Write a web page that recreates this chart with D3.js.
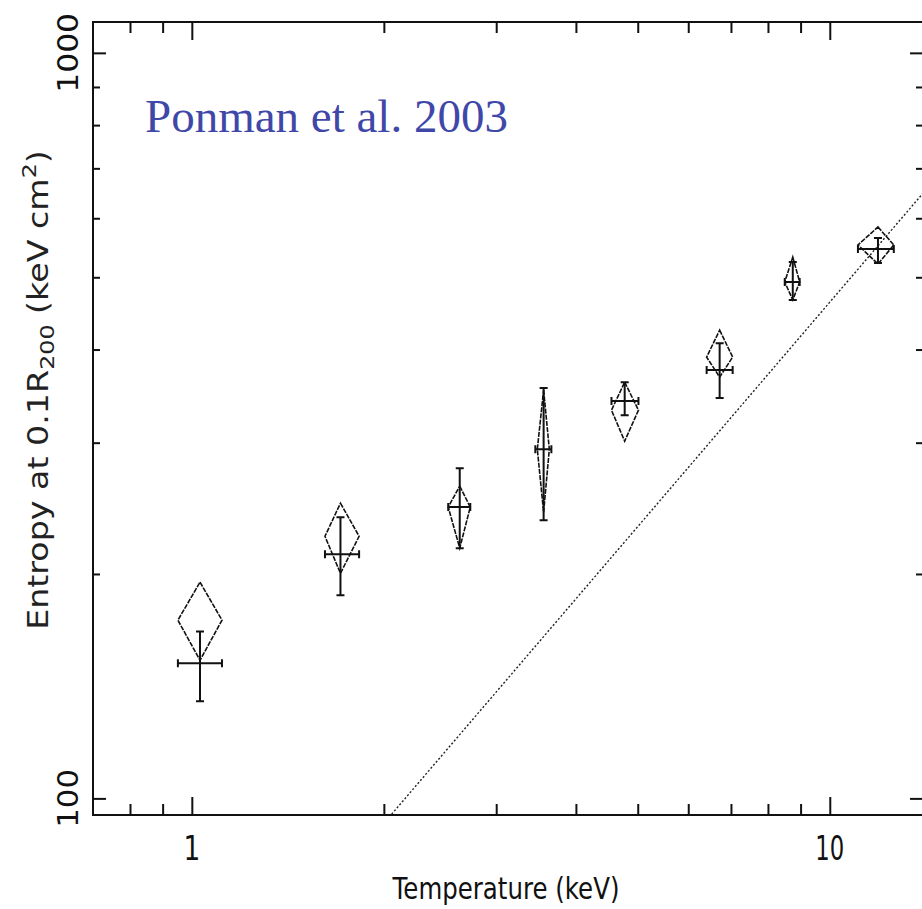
<!DOCTYPE html>
<html>
<head>
<meta charset="utf-8">
<script src="https://cdn.jsdelivr.net/npm/d3@7"></script>
<style>
  html, body { margin: 0; padding: 0; background: #fff; }
  svg { display: block; }
</style>
</head>
<body>
<script>
// temperature (keV) with x error range
var tempKeV = [1.03, 1.71, 2.63, 3.56, 4.77, 6.72, 8.75, 11.9];
var tempLo  = [0.951, 1.617, 2.523, 3.455, 4.548, 6.412, 8.5, 11.07];
var tempHi  = [1.115, 1.829, 2.732, 3.661, 5.013, 7.043, 8.97, 12.6];
// entropy at 0.1 R200 with y error range
var entropy   = [151.8, 212.6, 245.9, 294.0, 341.1, 375.4, 492.8, 545.7];
var entropyLo = [135.0, 187.3, 216.6, 236.1, 326.6, 344.3, 466.1, 522.5];
var entropyHi = [167.5, 238.3, 277.3, 355.1, 361.7, 408.0, 524.1, 564.5];
// diamonds
var diamondTLo = [0.951, 1.617, 2.523, 3.48, 4.548, 6.412, 8.5, 11.07];
var diamondTHi = [1.115, 1.829, 2.732, 3.634, 5.013, 7.043, 8.97, 12.6];
var diamondTop = [195.0, 248.9, 262.3, 352.9, 361.7, 424.8, 532.2, 584.0];
var diamondMid = [173.4, 224.7, 245.9, 294.0, 331.7, 390.8, 492.8, 552.5];
var diamondBot = [153.2, 200.4, 216.6, 242.0, 301.4, 367.3, 466.1, 521.0];
// self-similar line S = 46.3 T
var lineT = [2.0, 15.0];
var lineS = [92.6, 694.5];

var xMajor = [1, 10];
var xMinor = [0.8, 0.9, 2, 3, 4, 5, 6, 7, 8, 9];
var yMajor = [100, 1000];
var yMinor = [200, 300, 400, 500, 600, 700, 800, 900];

var W = 922, H = 909;
var pLeft = 93, pRight = 923, pTop = 22, pBottom = 815;

var svg = d3.select("body").append("svg").attr("width", W).attr("height", H);

var x = d3.scaleLog().domain([0.7, 14]).range([pLeft, pRight]);
var y = d3.scaleLog().domain([95, 1100]).range([pBottom, pTop]);

var defs = svg.append("defs");
defs.append("clipPath").attr("id", "clip").append("rect")
  .attr("x", pLeft).attr("y", pTop).attr("width", pRight - pLeft).attr("height", pBottom - pTop);

function tickAxis(axis, values, size, tr){
  var g = svg.append("g").attr("transform", tr)
    .call(axis.tickValues(values).tickSize(-size).tickFormat(""));
  g.select(".domain").remove();
  g.selectAll(".tick line").attr("stroke", "#111").attr("stroke-width", 2);
}
tickAxis(d3.axisBottom(x), xMajor, 18, "translate(0," + pBottom + ")");
tickAxis(d3.axisBottom(x), xMinor, 11, "translate(0," + pBottom + ")");
tickAxis(d3.axisTop(x), xMajor, 18, "translate(0," + pTop + ")");
tickAxis(d3.axisTop(x), xMinor, 11, "translate(0," + pTop + ")");
tickAxis(d3.axisLeft(y), yMajor, 13, "translate(" + pLeft + ",0)");
tickAxis(d3.axisLeft(y), yMinor, 7, "translate(" + pLeft + ",0)");
tickAxis(d3.axisRight(y), yMajor, 13, "translate(" + pRight + ",0)");
tickAxis(d3.axisRight(y), yMinor, 7, "translate(" + pRight + ",0)");

svg.append("rect").attr("x", pLeft).attr("y", pTop)
  .attr("width", pRight - pLeft).attr("height", pBottom - pTop)
  .attr("fill", "none").attr("stroke", "#111").attr("stroke-width", 2);

// self-similar line
svg.append("path").attr("clip-path", "url(#clip)")
  .datum(lineT.map(function(t, i){ return [t, lineS[i]]; }))
  .attr("fill", "none").attr("stroke", "#222").attr("stroke-width", 1.4)
  .attr("stroke-dasharray", "2,2")
  .attr("d", d3.line().x(function(d){ return x(d[0]); }).y(function(d){ return y(d[1]); }));

// diamonds
var pts = tempKeV.map(function(t, i){ return i; });
svg.append("g").selectAll("path").data(pts).enter().append("path")
  .attr("fill", "none").attr("stroke", "#111").attr("stroke-width", 1.6)
  .attr("stroke-dasharray", "5,1.2")
  .attr("d", function(i){
    return "M" + x(tempKeV[i]) + "," + y(diamondTop[i]) +
      "L" + x(diamondTHi[i]) + "," + y(diamondMid[i]) +
      "L" + x(tempKeV[i]) + "," + y(diamondBot[i]) +
      "L" + x(diamondTLo[i]) + "," + y(diamondMid[i]) + "Z";
  });

// error crosses
var cap = 4;
var eg = svg.append("g").attr("stroke", "#111").attr("stroke-width", 2).attr("fill", "none");
eg.selectAll("path").data(pts).enter().append("path")
  .attr("d", function(i){
    var cx = x(tempKeV[i]), cy = y(entropy[i]);
    var x0 = x(tempLo[i]), x1 = x(tempHi[i]);
    var y0 = y(entropyLo[i]), y1 = y(entropyHi[i]);
    return "M" + x0 + "," + cy + "H" + x1 +
      "M" + cx + "," + y0 + "V" + y1 +
      "M" + x0 + "," + (cy - cap) + "V" + (cy + cap) +
      "M" + x1 + "," + (cy - cap) + "V" + (cy + cap) +
      "M" + (cx - cap) + "," + y0 + "H" + (cx + cap) +
      "M" + (cx - cap) + "," + y1 + "H" + (cx + cap);
  });

// labels, squeezed to the measured lengths
var font = "'DejaVu Sans', sans-serif";
function label(txt, size, px, py, target, rot){
  var t = svg.append("text").attr("font-family", font).attr("font-size", size)
    .attr("fill", "#111").attr("text-anchor", "middle").text(txt);
  var sx = target ? target / t.node().getComputedTextLength() : 0.8;
  t.attr("transform", "translate(" + px + "," + py + ")" + (rot ? " rotate(-90)" : "") + " scale(" + sx + ",1)");
  return t;
}
label("1", 33, x(1), 860, null, false);
label("10", 33, x(10), 860, 29, false);
label("1000", 29, 78, y(1000), 80, true);
label("100", 29, 78, y(100), 59, true);
label("Temperature (keV)", 30, 506, 899, 227, false);

var yt = svg.append("text").attr("font-family", font).attr("font-size", 28)
  .attr("fill", "#222").attr("text-anchor", "middle");
yt.append("tspan").text("Entropy at 0.1R");
yt.append("tspan").attr("font-size", 20).attr("dy", 6).text("200");
yt.append("tspan").attr("dy", -6).text(" (keV cm");
yt.append("tspan").attr("font-size", 20).attr("dy", -12).text("2");
yt.append("tspan").attr("dy", 12).text(")");
var ys = 480 / yt.node().getComputedTextLength();
yt.attr("transform", "translate(48,390) rotate(-90) scale(" + ys + ",1)");

svg.append("text").attr("x", 145).attr("y", 132)
  .attr("font-family", "'Liberation Serif', 'Times New Roman', serif")
  .attr("font-size", 47).attr("fill", "#3f48a8")
  .text("Ponman et al. 2003");
</script>
</body>
</html>
